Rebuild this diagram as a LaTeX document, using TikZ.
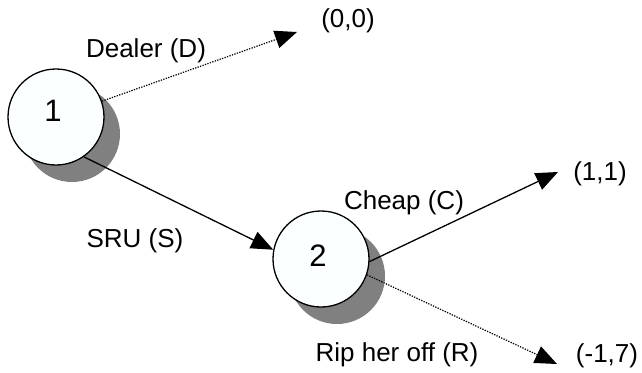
\documentclass[tikz,border=0pt]{standalone}
\usepackage{fontspec}
\setmainfont{Liberation Sans}
\usetikzlibrary{arrows.meta,shadows}
\definecolor{shadowgray}{HTML}{808080}
\definecolor{nodefill}{HTML}{FBFFFF}
\tikzset{
  decision/.style={circle, draw=black, line width=1.3pt, fill=nodefill, minimum size=96pt, inner sep=0pt,
    drop shadow={shadow xshift=16pt, shadow yshift=-17pt, fill=shadowgray, opacity=1}},
  lbl/.style={font=\fontsize{26}{30}\selectfont, inner sep=0pt},
  digit/.style={font=\fontsize{31}{34}\selectfont, inner sep=0pt},
  tip/.style={-{Triangle[length=22pt,width=18pt]}},
  solidedge/.style={tip, line width=1.3pt},
  dottededge/.style={tip, line width=1.2pt, dash pattern=on 1.3pt off 1.3pt}
}
\begin{document}
\begin{tikzpicture}[x=1pt,y=-1pt]
\useasboundingbox (0,0) rectangle (642,372);
\node[decision] (n1) at (56,117) {};
\node[digit] (d1) at (53,111) {1};
\node[decision] (n2) at (321,259) {};
\node[digit] (d2) at (318,256) {2};
\coordinate (t0) at (297,32);
\coordinate (t1) at (558,172);
\coordinate (t2) at (557,364);
\draw[dottededge] (n1.19) -- (t0);
\draw[solidedge] (n1.-55) -- (n2.169);
\draw[solidedge] (n2.-3) -- (t1);
\draw[dottededge] (n2.-19) -- (t2);
\node[lbl] (ldealer) at (146,51) {Dealer (D)};
\node[lbl] (p00) at (348,21) {(0,0)};
\node[lbl] (lsru) at (135,241) {SRU (S)};
\node[lbl] (lcheap) at (404,203) {Cheap (C)};
\node[lbl] (p11) at (600,174) {(1,1)};
\node[lbl] (lrip) at (397,355) {Rip her off (R)};
\node[lbl] (p17) at (607,356) {(-1,7)};
\end{tikzpicture}
\end{document}
